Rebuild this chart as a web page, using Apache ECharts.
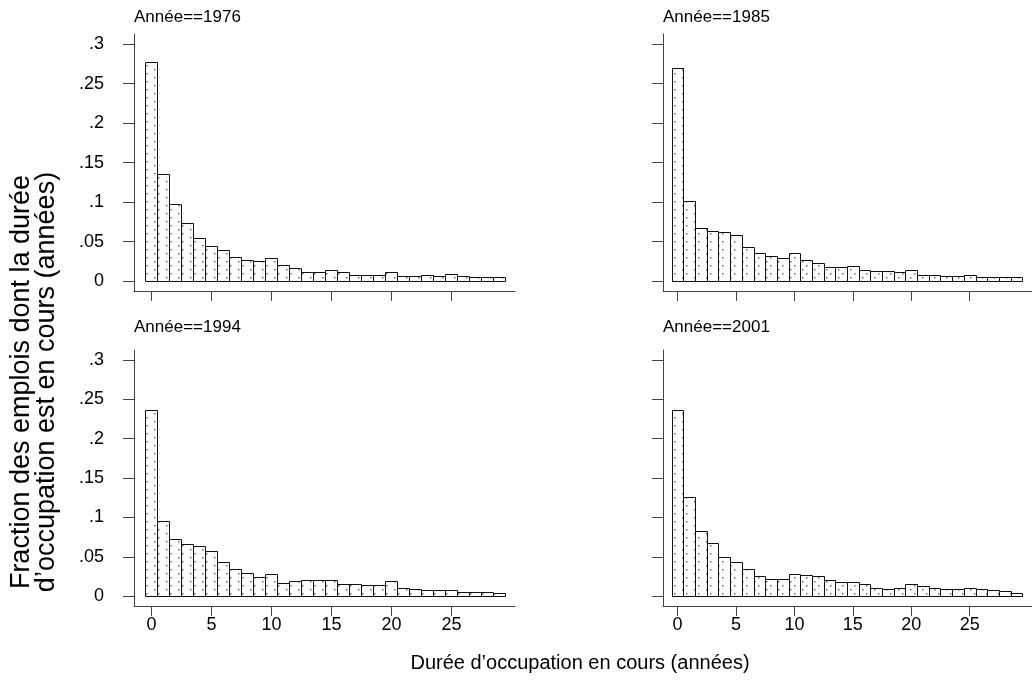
<!DOCTYPE html>
<html>
<head>
<meta charset="utf-8">
<script src="https://cdn.jsdelivr.net/npm/echarts@6/dist/echarts.min.js"></script>
<style>
  html, body { margin: 0; padding: 0; background: #fff; }
  #chart { width: 1032px; height: 687px; }
</style>
</head>
<body>
<div id="chart"></div>
<script>
// durée d'occupation en cours, classes d'un an (centre de la classe)
const durees = [0, 1, 2, 3, 4, 5, 6, 7, 8, 9, 10, 11, 12, 13, 14, 15, 16, 17, 18, 19, 20, 21, 22, 23, 24, 25, 26, 27, 28, 29];

const panelTitles = ["Année==1976", "Année==1985", "Année==1994", "Année==2001"];

const frac1976 = [0.277, 0.135, 0.097, 0.074, 0.054, 0.045, 0.039, 0.031, 0.027, 0.025,
  0.029, 0.020, 0.016, 0.012, 0.011, 0.014, 0.011, 0.008, 0.008, 0.008,
  0.012, 0.007, 0.007, 0.008, 0.007, 0.009, 0.007, 0.005, 0.0046, 0.0046];
const frac1985 = [0.270, 0.102, 0.067, 0.063, 0.062, 0.058, 0.043, 0.035, 0.032, 0.029,
  0.036, 0.027, 0.023, 0.018, 0.018, 0.019, 0.014, 0.0125, 0.0125, 0.011,
  0.014, 0.0072, 0.0072, 0.0063, 0.0063, 0.0072, 0.005, 0.0046, 0.0055, 0.0046];
const frac1994 = [0.236, 0.095, 0.073, 0.066, 0.064, 0.058, 0.043, 0.034, 0.029, 0.024,
  0.028, 0.017, 0.019, 0.020, 0.021, 0.021, 0.015, 0.015, 0.014, 0.014,
  0.019, 0.010, 0.0085, 0.008, 0.008, 0.008, 0.0055, 0.0047, 0.0047, 0.0038];
const frac2001 = [0.237, 0.126, 0.083, 0.068, 0.050, 0.043, 0.034, 0.026, 0.022, 0.022,
  0.028, 0.027, 0.025, 0.020, 0.018, 0.018, 0.015, 0.0104, 0.0085, 0.0104,
  0.0155, 0.013, 0.0104, 0.0085, 0.0085, 0.0104, 0.0085, 0.0072, 0.006, 0.0042];

const xTicks = [0, 5, 10, 15, 20, 25];
const yTicks = [0, 0.05, 0.1, 0.15, 0.2, 0.25, 0.3];
const yTickLabels = ["0", ".05", ".1", ".15", ".2", ".25", ".3"];

const yTitle = "Fraction des emplois dont la durée\nd’occupation est en cours (années)";
const xTitle = "Durée d’occupation en cours (années)";

const FONT = "'Liberation Sans', Arial, Helvetica, sans-serif";

// motif pointillé des barres
const pat = document.createElement("canvas");
pat.width = 12;
pat.height = 8;
const pctx = pat.getContext("2d");
pctx.fillStyle = "#fff";
pctx.fillRect(0, 0, 12, 8);
pctx.fillStyle = "#6a6a6a";
pctx.fillRect(2, 1, 1.5, 1.5);
pctx.fillRect(10, 5, 1.5, 1.5);
const dotPattern = { image: pat, repeat: "repeat" };

// une grille par année : 1976, 1985 en haut ; 1994, 2001 en bas
const panels = [
  { data: frac1976, left: 134, top: 34, width: 381, height: 257, xmin: -1.45, ylab: true, xlab: false },
  { data: frac1985, left: 663, top: 34, width: 379, height: 257, xmin: -1.25, ylab: false, xlab: false },
  { data: frac1994, left: 134, top: 350, width: 381, height: 256, xmin: -1.45, ylab: true, xlab: true },
  { data: frac2001, left: 663, top: 350, width: 379, height: 256, xmin: -1.25, ylab: false, xlab: true },
];

function renderBar(params, api) {
  const x = api.value(0);
  const y = api.value(1);
  const p0 = api.coord([x - 0.5, 0]);
  const p1 = api.coord([x + 0.5, y]);
  const l = Math.round(p0[0]) + 0.5;
  const r = Math.round(p1[0]) + 0.5;
  const t = Math.round(p1[1]) + 0.5;
  const b = Math.round(p0[1]) + 0.5;
  return {
    type: "rect",
    shape: { x: l, y: t, width: r - l, height: b - t },
    style: { fill: dotPattern, stroke: "#111", lineWidth: 1 },
  };
}

const grid = [], xAxis = [], yAxis = [], series = [];
panels.forEach((p, i) => {
  grid.push({ left: p.left, top: p.top, width: p.width, height: p.height, containLabel: false });
  xAxis.push({
    type: "value",
    gridIndex: i,
    min: p.xmin,
    max: p.xmin + p.width / 12,
    splitLine: { show: false },
    axisLine: { show: true, onZero: false, lineStyle: { color: "#444", width: 1 } },
    axisTick: { show: true, length: 10, customValues: xTicks, lineStyle: { color: "#444" } },
    axisLabel: {
      show: p.xlab,
      customValues: xTicks,
      margin: 10,
      color: "#000",
      fontSize: 18,
      fontFamily: FONT,
    },
  });
  yAxis.push({
    type: "value",
    gridIndex: i,
    min: -0.0125,
    max: 0.3127,
    splitLine: { show: false },
    axisLine: { show: true, onZero: false, lineStyle: { color: "#444", width: 1 } },
    axisTick: { show: true, length: 11, customValues: yTicks, lineStyle: { color: "#444" } },
    axisLabel: {
      show: p.ylab,
      customValues: yTicks,
      margin: 30,
      color: "#000",
      fontSize: 18,
      fontFamily: FONT,
      formatter: (v) => yTickLabels[yTicks.findIndex((t) => Math.abs(t - v) < 1e-9)],
    },
  });
  series.push({
    type: "custom",
    xAxisIndex: i,
    yAxisIndex: i,
    renderItem: renderBar,
    data: durees.map((d, k) => [d, p.data[k]]),
    clip: false,
    silent: true,
  });
});

const graphic = [
  { type: "text", x: 134, y: 17, style: { text: panelTitles[0], font: "17px " + FONT, fill: "#000", align: "left", verticalAlign: "middle" } },
  { type: "text", x: 663, y: 17, style: { text: panelTitles[1], font: "17px " + FONT, fill: "#000", align: "left", verticalAlign: "middle" } },
  { type: "text", x: 134, y: 327, style: { text: panelTitles[2], font: "17px " + FONT, fill: "#000", align: "left", verticalAlign: "middle" } },
  { type: "text", x: 663, y: 327, style: { text: panelTitles[3], font: "17px " + FONT, fill: "#000", align: "left", verticalAlign: "middle" } },
  {
    type: "text", x: 34, y: 382, rotation: Math.PI / 2,
    style: { text: yTitle, font: "27px " + FONT, fill: "#000", align: "center", verticalAlign: "middle", lineHeight: 25 },
  },
  {
    type: "text", x: 580, y: 663,
    style: { text: xTitle, font: "20px " + FONT, fill: "#000", align: "center", verticalAlign: "middle" },
  },
];

const chart = echarts.init(document.getElementById("chart"), null, { renderer: "canvas" });
chart.setOption({
  animation: false,
  backgroundColor: "#fff",
  grid: grid,
  xAxis: xAxis,
  yAxis: yAxis,
  series: series,
  graphic: graphic,
});
</script>
</body>
</html>
